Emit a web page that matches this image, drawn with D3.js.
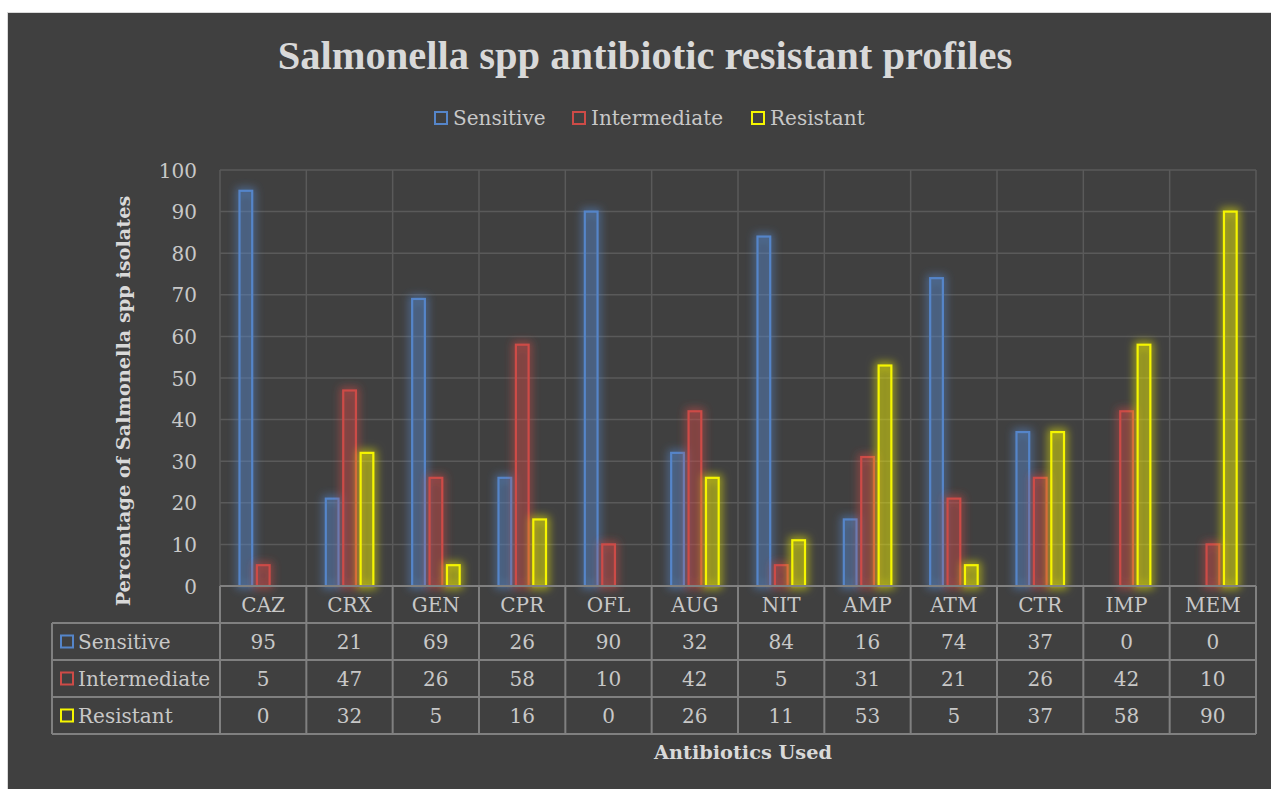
<!DOCTYPE html>
<html>
<head>
<meta charset="utf-8">
<script src="https://cdn.jsdelivr.net/npm/d3@7"></script>
<style>
  body { margin: 0; background: #ffffff; }
  svg text { font-family: "DejaVu Serif", "Liberation Serif", serif; }
</style>
</head>
<body>
<div id="chart"></div>
<script>
// données
const categories = ["CAZ", "CRX", "GEN", "CPR", "OFL", "AUG", "NIT", "AMP", "ATM", "CTR", "IMP", "MEM"];
const seriesNames = ["Sensitive", "Intermediate", "Resistant"];
const sensitive = [95, 21, 69, 26, 90, 32, 84, 16, 74, 37, 0, 0];
const intermediate = [5, 47, 26, 58, 10, 42, 5, 31, 21, 26, 42, 10];
const resistant = [0, 32, 5, 16, 0, 26, 11, 53, 5, 37, 58, 90];
const yTicks = [0, 10, 20, 30, 40, 50, 60, 70, 80, 90, 100];

const seriesValues = [sensitive, intermediate, resistant];
const colors = ["#5585c9", "#cd4b47", "#f5f500"];

const width = 1271;
const height = 789;
const plot = { left: 220, right: 1256, top: 170, bottom: 586 };
const rowH = 37;
const tableLeft = 52;
const textColor = "#c8c8c8";
const titleColor = "#d9d9d9";
const gridColor = "#5a5a5a";
const tableColor = "#808080";

const svg = d3.select("#chart")
  .append("svg")
  .attr("width", width)
  .attr("height", height);

// fond du graphique
svg.append("rect")
  .attr("x", 7.5).attr("y", 12.5)
  .attr("width", width).attr("height", height)
  .attr("fill", "#404040")
  .attr("stroke", "#d9d9d9");

// filtres de lueur pour chaque série
const defs = svg.append("defs");
colors.forEach((c, i) => {
  const f = defs.append("filter").attr("id", "glow" + i)
    .attr("x", "-80%").attr("y", "-20%").attr("width", "260%").attr("height", "140%");
  f.append("feMorphology").attr("in", "SourceAlpha").attr("operator", "dilate").attr("radius", 1.5).attr("result", "fat");
  f.append("feGaussianBlur").attr("in", "fat").attr("stdDeviation", 4).attr("result", "blur");
  f.append("feFlood").attr("flood-color", c).attr("flood-opacity", 0.6);
  f.append("feComposite").attr("in2", "blur").attr("operator", "in").attr("result", "glow");
  const m = f.append("feMerge");
  m.append("feMergeNode").attr("in", "glow");
  m.append("feMergeNode").attr("in", "SourceGraphic");
});

// échelles
const x = d3.scaleBand().domain(categories).range([plot.left, plot.right]);
const xSub = d3.scaleBand().domain(seriesNames).range([19.5, 67]).paddingInner(0.27);
const y = d3.scaleLinear().domain([0, 100]).range([plot.bottom, plot.top]);

// grille
svg.append("g")
  .selectAll("line")
  .data(yTicks)
  .join("line")
  .attr("x1", plot.left).attr("x2", plot.right)
  .attr("y1", d => y(d)).attr("y2", d => y(d))
  .attr("stroke", gridColor).attr("stroke-width", 1.5);

svg.append("g")
  .selectAll("line")
  .data(d3.range(categories.length + 1))
  .join("line")
  .attr("x1", i => plot.left + i * x.step()).attr("x2", i => plot.left + i * x.step())
  .attr("y1", plot.top).attr("y2", plot.bottom)
  .attr("stroke", gridColor).attr("stroke-width", 1.5);

// axe Y
const yAxis = d3.axisLeft(y).tickValues(yTicks).tickSize(0).tickPadding(0);
const gy = svg.append("g")
  .attr("transform", `translate(197, 0)`)
  .call(yAxis);
gy.select(".domain").remove();
gy.selectAll("text")
  .attr("fill", textColor)
  .style("font-family", "DejaVu Serif")
  .style("font-size", "20px")
  .attr("dy", "0.35em");

// barres
seriesNames.forEach((name, s) => {
  const data = categories.map((c, i) => ({ cat: c, value: seriesValues[s][i] }))
    .filter(d => d.value > 0);
  svg.append("g")
    .attr("filter", `url(#glow${s})`)
    .selectAll("rect")
    .data(data)
    .join("rect")
    .attr("x", d => x(d.cat) + xSub(name))
    .attr("y", d => y(d.value))
    .attr("width", xSub.bandwidth())
    .attr("height", d => y(0) - y(d.value))
    .attr("fill", colors[s])
    .attr("fill-opacity", 0.2)
    .attr("stroke", colors[s])
    .attr("stroke-width", 2.2);
});

// tableau de données
const table = svg.append("g");
const tableBottom = plot.bottom + rowH * 4;

// lignes horizontales
table.append("line")
  .attr("x1", plot.left).attr("x2", plot.right)
  .attr("y1", plot.bottom).attr("y2", plot.bottom)
  .attr("stroke", tableColor).attr("stroke-width", 2);
table.selectAll(".hrow")
  .data(d3.range(1, 5))
  .join("line")
  .attr("x1", tableLeft).attr("x2", plot.right)
  .attr("y1", i => plot.bottom + i * rowH).attr("y2", i => plot.bottom + i * rowH)
  .attr("stroke", tableColor).attr("stroke-width", 2);

// lignes verticales
table.selectAll(".vcol")
  .data(d3.range(categories.length + 1))
  .join("line")
  .attr("x1", i => plot.left + i * x.step()).attr("x2", i => plot.left + i * x.step())
  .attr("y1", plot.bottom).attr("y2", tableBottom)
  .attr("stroke", tableColor).attr("stroke-width", 2);
table.append("line")
  .attr("x1", tableLeft).attr("x2", tableLeft)
  .attr("y1", plot.bottom + rowH).attr("y2", tableBottom)
  .attr("stroke", tableColor).attr("stroke-width", 2);

// libellés des catégories
table.selectAll(".cat")
  .data(categories)
  .join("text")
  .attr("x", d => x(d) + x.bandwidth() / 2)
  .attr("y", plot.bottom + rowH / 2)
  .attr("dy", "0.35em")
  .attr("text-anchor", "middle")
  .attr("fill", textColor)
  .style("font-size", "20px")
  .text(d => d);

// lignes de valeurs
seriesNames.forEach((name, s) => {
  const rowY = plot.bottom + (s + 1) * rowH;
  table.append("rect")
    .attr("x", 61).attr("y", rowY + rowH / 2 - 6)
    .attr("width", 12).attr("height", 12)
    .attr("fill", "none")
    .attr("stroke", colors[s]).attr("stroke-width", 2);
  table.append("text")
    .attr("x", 78).attr("y", rowY + rowH / 2)
    .attr("dy", "0.35em")
    .attr("fill", textColor)
    .style("font-size", "20px")
    .text(name);
  table.selectAll(".val" + s)
    .data(seriesValues[s])
    .join("text")
    .attr("x", (d, i) => x(categories[i]) + x.bandwidth() / 2)
    .attr("y", rowY + rowH / 2)
    .attr("dy", "0.35em")
    .attr("text-anchor", "middle")
    .attr("fill", textColor)
    .style("font-size", "20px")
    .text(d => d);
});

// légende
const legendItems = [
  { name: "Sensitive", x: 435 },
  { name: "Intermediate", x: 573 },
  { name: "Resistant", x: 752 }
];
const legend = svg.append("g");
legendItems.forEach((d, i) => {
  legend.append("rect")
    .attr("x", d.x).attr("y", 112)
    .attr("width", 12).attr("height", 12)
    .attr("fill", "none")
    .attr("stroke", colors[i]).attr("stroke-width", 2);
  legend.append("text")
    .attr("x", d.x + 18).attr("y", 118)
    .attr("dy", "0.35em")
    .attr("fill", textColor)
    .style("font-size", "20px")
    .text(d.name);
});

// titres
svg.append("text")
  .attr("x", 645).attr("y", 69)
  .attr("text-anchor", "middle")
  .attr("fill", titleColor)
  .style("font-family", "Liberation Serif")
  .style("font-size", "40.5px")
  .style("font-weight", "bold")
  .text("Salmonella spp antibiotic resistant profiles");

svg.append("text")
  .attr("transform", "translate(130, 401) rotate(-90)")
  .attr("text-anchor", "middle")
  .attr("fill", titleColor)
  .style("font-size", "19.3px")
  .style("font-weight", "bold")
  .text("Percentage of Salmonella spp isolates");

svg.append("text")
  .attr("x", 743).attr("y", 759)
  .attr("text-anchor", "middle")
  .attr("fill", titleColor)
  .style("font-size", "19.3px")
  .style("font-weight", "bold")
  .text("Antibiotics Used");
</script>
</body>
</html>
